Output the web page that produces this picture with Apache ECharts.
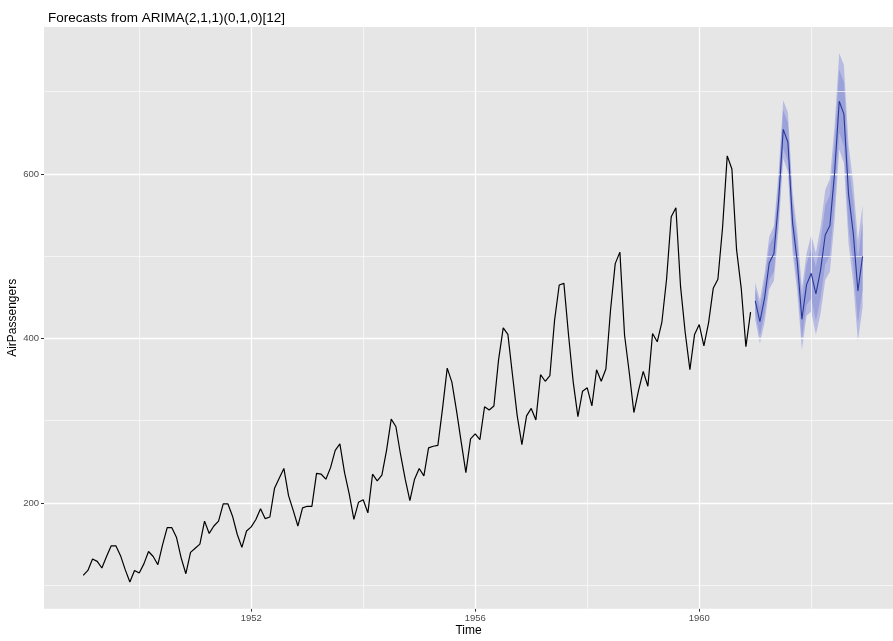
<!DOCTYPE html>
<html>
<head>
<meta charset="utf-8">
<script src="https://cdn.jsdelivr.net/npm/echarts@6/dist/echarts.min.js"></script>
<style>
  html, body { margin: 0; padding: 0; background: #ffffff; }
  #chart { width: 893px; height: 641px; }
</style>
</head>
<body>
<div id="chart"></div>
<script>
// Monthly airline passengers (thousands), Jan 1949 – Dec 1960
const passengers = [
  112, 118, 132, 129, 121, 135, 148, 148, 136, 119, 104, 118,
  115, 126, 141, 135, 125, 149, 170, 170, 158, 133, 114, 140,
  145, 150, 178, 163, 172, 178, 199, 199, 184, 162, 146, 166,
  171, 180, 193, 181, 183, 218, 230, 242, 209, 191, 172, 194,
  196, 196, 236, 235, 229, 243, 264, 272, 237, 211, 180, 201,
  204, 188, 235, 227, 234, 264, 302, 293, 259, 229, 203, 229,
  242, 233, 267, 269, 270, 315, 364, 347, 312, 274, 237, 278,
  284, 277, 317, 313, 318, 374, 413, 405, 355, 306, 271, 306,
  315, 301, 356, 348, 355, 422, 465, 467, 404, 347, 305, 336,
  340, 318, 362, 348, 363, 435, 491, 505, 404, 359, 310, 337,
  360, 342, 406, 396, 420, 472, 548, 559, 463, 407, 362, 405,
  417, 391, 419, 461, 472, 535, 622, 606, 508, 461, 390, 432
];
const startYear = 1949;

// 24-month forecast, Jan 1961 – Dec 1962
const forecastMean = [
  445.6, 420.4, 449.2, 491.8, 503.4, 566.9, 654.3, 638.6, 540.9, 494.1, 423.3, 465.5,
  479.3, 454.2, 483.1, 525.8, 537.5, 601.0, 688.4, 672.8, 575.1, 528.4, 457.7, 499.9
];
const lo80 = [
  430.9, 403.1, 429.8, 471.0, 481.6, 544.3, 631.1, 615.0, 517.0, 469.8, 398.8, 440.8,
  449.0, 421.7, 448.7, 490.0, 500.6, 563.3, 650.0, 633.8, 535.5, 488.6, 418.3, 459.4
];
const hi80 = [
  460.3, 437.7, 468.6, 512.6, 525.2, 589.5, 677.5, 662.2, 564.8, 518.4, 447.8, 490.2,
  509.6, 486.7, 517.5, 561.6, 574.4, 638.7, 726.8, 711.8, 613.5, 567.4, 497.1, 540.4
];
const lo95 = [
  423.1, 394.0, 419.5, 460.0, 470.1, 532.4, 618.9, 602.5, 504.3, 457.0, 385.9, 427.8,
  432.9, 404.5, 430.5, 471.1, 481.1, 543.3, 629.7, 613.2, 514.8, 467.5, 396.3, 438.0
];
const hi95 = [
  468.1, 446.8, 478.9, 523.6, 536.7, 601.4, 689.7, 674.7, 577.5, 531.2, 460.7, 503.2,
  525.7, 503.9, 535.7, 580.5, 593.9, 658.7, 747.1, 732.4, 635.4, 589.3, 519.1, 561.8
];
const forecastStartYear = 1961;

const xTickLabels = [1952, 1956, 1960];
const xMinorGrid = [1950, 1954, 1958, 1962];
const yTickLabels = [200, 400, 600];
const yMinorGrid = [100, 300, 500, 700];

// time index helpers
const histTime = passengers.map((_, i) => startYear + i / 12);
const fcTime = forecastMean.map((_, i) => forecastStartYear + i / 12);

const histData = passengers.map((v, i) => [histTime[i], v]);
const fcData = forecastMean.map((v, i) => [fcTime[i], v]);

function bandSeries(name, lo, hi, color) {
  return {
    name: name,
    type: 'custom',
    silent: true,
    clip: true,
    z: 3,
    data: fcTime.map((t, i) => [t, lo[i], hi[i]]),
    encode: { x: 0, y: [1, 2] },
    renderItem: function (params, api) {
      if (params.dataIndex !== 0) return null;
      const pts = [];
      for (let i = 0; i < fcTime.length; i++) pts.push(api.coord([fcTime[i], hi[i]]));
      for (let i = fcTime.length - 1; i >= 0; i--) pts.push(api.coord([fcTime[i], lo[i]]));
      return { type: 'polygon', shape: { points: pts }, style: { fill: color } };
    }
  };
}

const majorLine = { color: '#ffffff', width: 1.3, type: 'solid' };
const minorLine = { color: '#fafafa', width: 0.75, type: 'solid' };

const gridMarks = []
  .concat(xTickLabels.map(v => ({ xAxis: v, lineStyle: majorLine })))
  .concat(xMinorGrid.map(v => ({ xAxis: v, lineStyle: minorLine })))
  .concat(yTickLabels.map(v => ({ yAxis: v, lineStyle: majorLine })))
  .concat(yMinorGrid.map(v => ({ yAxis: v, lineStyle: minorLine })));

const tickFont = { color: '#4d4d4d', fontSize: 9.5, fontFamily: 'Liberation Sans' };

const chart = echarts.init(document.getElementById('chart'), null, { renderer: 'canvas' });
chart.setOption({
  animation: false,
  backgroundColor: '#ffffff',
  title: {
    text: 'Forecasts from ARIMA(2,1,1)(0,1,0)[12]',
    left: 43,
    top: 6,
    textStyle: { color: '#000000', fontSize: 13.5, fontWeight: 'normal', fontFamily: 'Liberation Sans' }
  },
  grid: {
    left: 44, right: 0, top: 27, bottom: 32.3,
    containLabel: false,
    outerBoundsMode: 'none',
    show: true, backgroundColor: '#e6e6e6', borderWidth: 0
  },
  xAxis: {
    type: 'value',
    min: 1948.3,
    max: 1963.46,
    name: 'Time',
    nameLocation: 'middle',
    nameGap: 16,
    nameMoveOverlap: false,
    nameTextStyle: { color: '#000000', fontSize: 12, fontFamily: 'Liberation Sans' },
    axisLine: { show: false },
    splitLine: { show: false },
    axisTick: { show: true, length: 3, customValues: xTickLabels, lineStyle: { color: '#333333', width: 1 } },
    axisLabel: { customValues: xTickLabels, margin: 5, ...tickFont, formatter: v => String(v) }
  },
  yAxis: {
    type: 'value',
    min: 71.5,
    max: 778.7,
    name: 'AirPassengers',
    nameLocation: 'middle',
    nameGap: 25,
    nameMoveOverlap: false,
    nameTextStyle: { color: '#000000', fontSize: 12, fontFamily: 'Liberation Sans' },
    axisLine: { show: false },
    splitLine: { show: false },
    axisTick: { show: true, length: 3, customValues: yTickLabels, lineStyle: { color: '#333333', width: 1 } },
    axisLabel: { customValues: yTickLabels, margin: 5, ...tickFont }
  },
  series: [
    {
      name: 'grid',
      type: 'line',
      data: [],
      silent: true,
      z: 1,
      markLine: {
        silent: true,
        symbol: ['none', 'none'],
        label: { show: false },
        animation: false,
        data: gridMarks
      }
    },
    bandSeries('95%', lo95, hi95, '#b7bbe2'),
    bandSeries('80%', lo80, hi80, '#9ba1d9'),
    {
      name: 'AirPassengers',
      type: 'line',
      data: histData,
      showSymbol: false,
      z: 5,
      lineStyle: { color: '#000000', width: 1.2 }
    },
    {
      name: 'Forecast',
      type: 'line',
      data: fcData,
      showSymbol: false,
      z: 6,
      lineStyle: { color: '#28399a', width: 1.1 }
    }
  ]
});
</script>
</body>
</html>
